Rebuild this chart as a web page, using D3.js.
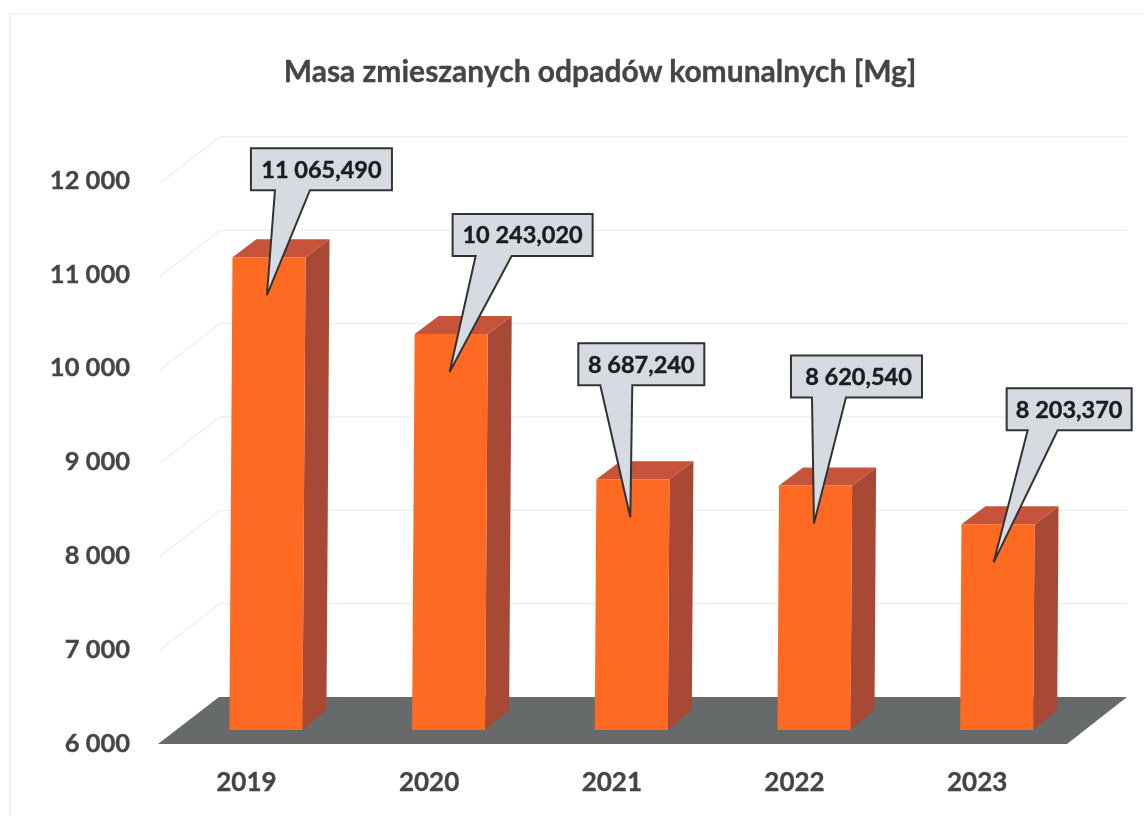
<!DOCTYPE html>
<html><head><meta charset="utf-8">
<script src="https://cdn.jsdelivr.net/npm/d3@7/dist/d3.min.js"></script>
<style>html,body{margin:0;padding:0;background:#fff}svg{display:block}text{font-family:Lato,sans-serif;font-weight:700}</style>
</head><body><svg id="c" width="1144" height="819"></svg>
<script>
const titleText = "Masa zmieszanych odpadów komunalnych [Mg]";
const years = ["2019","2020","2021","2022","2023"];
const masses = [11065.49,10243.02,8687.24,8620.54,8203.37];
const yTicks = [6000,7000,8000,9000,10000,11000,12000];
// callout layout relative to the pointer tip: tip shift, box left, box width, box top, tail base left/right
const tipShift = [1,1,-1,0,-3];
const boxLeft = [-16,3,-52,-23,13];
const boxWidth = [141,140,126,131,125];
const boxTop = [-147,-158,-174,-168,-174];
const tailL = [8,26,-30,-2,34];
const tailR = [43,62,2,32,64];

const svg = d3.select("#c");
const locale = d3.formatLocale({decimal:",",thousands:"\u00a0",grouping:[3],currency:["",""]});
const fmtTick = locale.format(",d"), fmtVal = locale.format(",.3f");

const defs = svg.append("defs");
defs.append("filter").attr("id","soft").append("feGaussianBlur").attr("stdDeviation",0.45);

const root = svg.append("g").attr("filter","url(#soft)");

const x = d3.scaleBand().domain(years).range([174.6,1088]).paddingInner(0.6).paddingOuter(0.3);
const y = d3.scaleLinear().domain([6000,12000]).range([730,170]);
const yLabel = d3.scaleLinear().domain([6000,12000]).range([743,180]);

const DX = 24, DY = -18, BACK = -33, SKEW = 0.0065;
const line = d3.line();

// frame
root.append("path").attr("fill","none").attr("stroke","#f1f1f1").attr("stroke-width",1.5)
  .attr("d",line([[10,816],[10,14],[1144,14]]));

// title
root.append("text").attr("x",600).attr("y",82).attr("text-anchor","middle")
  .attr("font-size",30).attr("fill","#454545").attr("stroke","#454545").attr("stroke-width",0.35).text(titleText);

// gridlines
const gridV = yTicks.filter(v=>v>6000);
root.append("g").selectAll("path").data(gridV).join("path")
  .attr("fill","none").attr("stroke","#eeeeee").attr("stroke-width",1.3)
  .attr("d",v=>line([[160,y(v)+BACK+46],[220,y(v)+BACK],[1127,y(v)+BACK]]));

// floor
root.append("path").attr("fill","#666a6b")
  .attr("d",line([[158,y(6000)+14],[219,y(6000)+BACK],[1127,y(6000)+BACK],[1067,y(6000)+14]])+"Z");

// bars
const data = years.map((yr,i)=>({yr,v:masses[i],i}));
const bar = root.append("g").selectAll("g").data(data).join("g");
const bw = x.bandwidth();
const corners = d=>{
  const l0=x(d.yr), b=y(6000), t=y(d.v), s=(b-t)*SKEW;
  return {l0,r0:l0+bw,lt:l0+s,rt:l0+bw+s,b,t};
};
bar.append("path").attr("fill","#a84a35").attr("d",d=>{const c=corners(d);
  return line([[c.r0,c.b],[c.r0+DX,c.b+DY-2],[c.rt+DX,c.t+DY],[c.rt,c.t]])+"Z";});
bar.append("path").attr("fill","#c8523a").attr("d",d=>{const c=corners(d);
  return line([[c.lt,c.t],[c.lt+DX,c.t+DY],[c.rt+DX,c.t+DY],[c.rt,c.t]])+"Z";});
bar.append("path").attr("fill","#ff6a22").attr("d",d=>{const c=corners(d);
  return line([[c.l0,c.b],[c.lt,c.t],[c.rt,c.t],[c.r0,c.b]])+"Z";});

// axes
const axY = root.append("g").attr("transform","translate(130,0)")
  .call(d3.axisLeft(yLabel).tickValues(yTicks).tickFormat(fmtTick).tickSize(0).tickPadding(0));
axY.select(".domain").remove();
axY.selectAll("text").attr("font-size",25.5).attr("fill","#454545").attr("stroke","#454545").attr("stroke-width",0.35).attr("font-family","Lato").attr("font-weight",700);

const axX = root.append("g").attr("transform","translate(-19.5,773)")
  .call(d3.axisBottom(x).tickSize(0).tickPadding(0));
axX.select(".domain").remove();
axX.selectAll("text").attr("font-size",26).attr("fill","#454545").attr("stroke","#454545").attr("stroke-width",0.35).attr("font-family","Lato").attr("font-weight",700);

// callouts
const BOXH = 42;
const call = root.append("g").selectAll("g").data(data).join("g")
  .attr("transform",d=>`translate(${x(d.yr)+bw/2+tipShift[d.i]},${y(d.v)+38})`);
call.append("path").attr("fill","#d6dbe1").attr("stroke","#333").attr("stroke-width",2).attr("stroke-linejoin","miter")
  .attr("d",d=>{const i=d.i,l=boxLeft[i],r=l+boxWidth[i],t=boxTop[i],b=t+BOXH;
    return line([[l,t],[r,t],[r,b],[tailR[i],b],[0,0],[tailL[i],b],[l,b]])+"Z";});
call.append("text").attr("text-anchor","middle")
  .attr("x",d=>boxLeft[d.i]+boxWidth[d.i]/2+(d.i===3?2:0))
  .attr("y",d=>boxTop[d.i]+BOXH/2+8.5)
  .attr("font-size",23.5).attr("fill","#1f1f1f").attr("stroke","#1f1f1f").attr("stroke-width",0.45).text(d=>fmtVal(d.v));
</script></body></html>
